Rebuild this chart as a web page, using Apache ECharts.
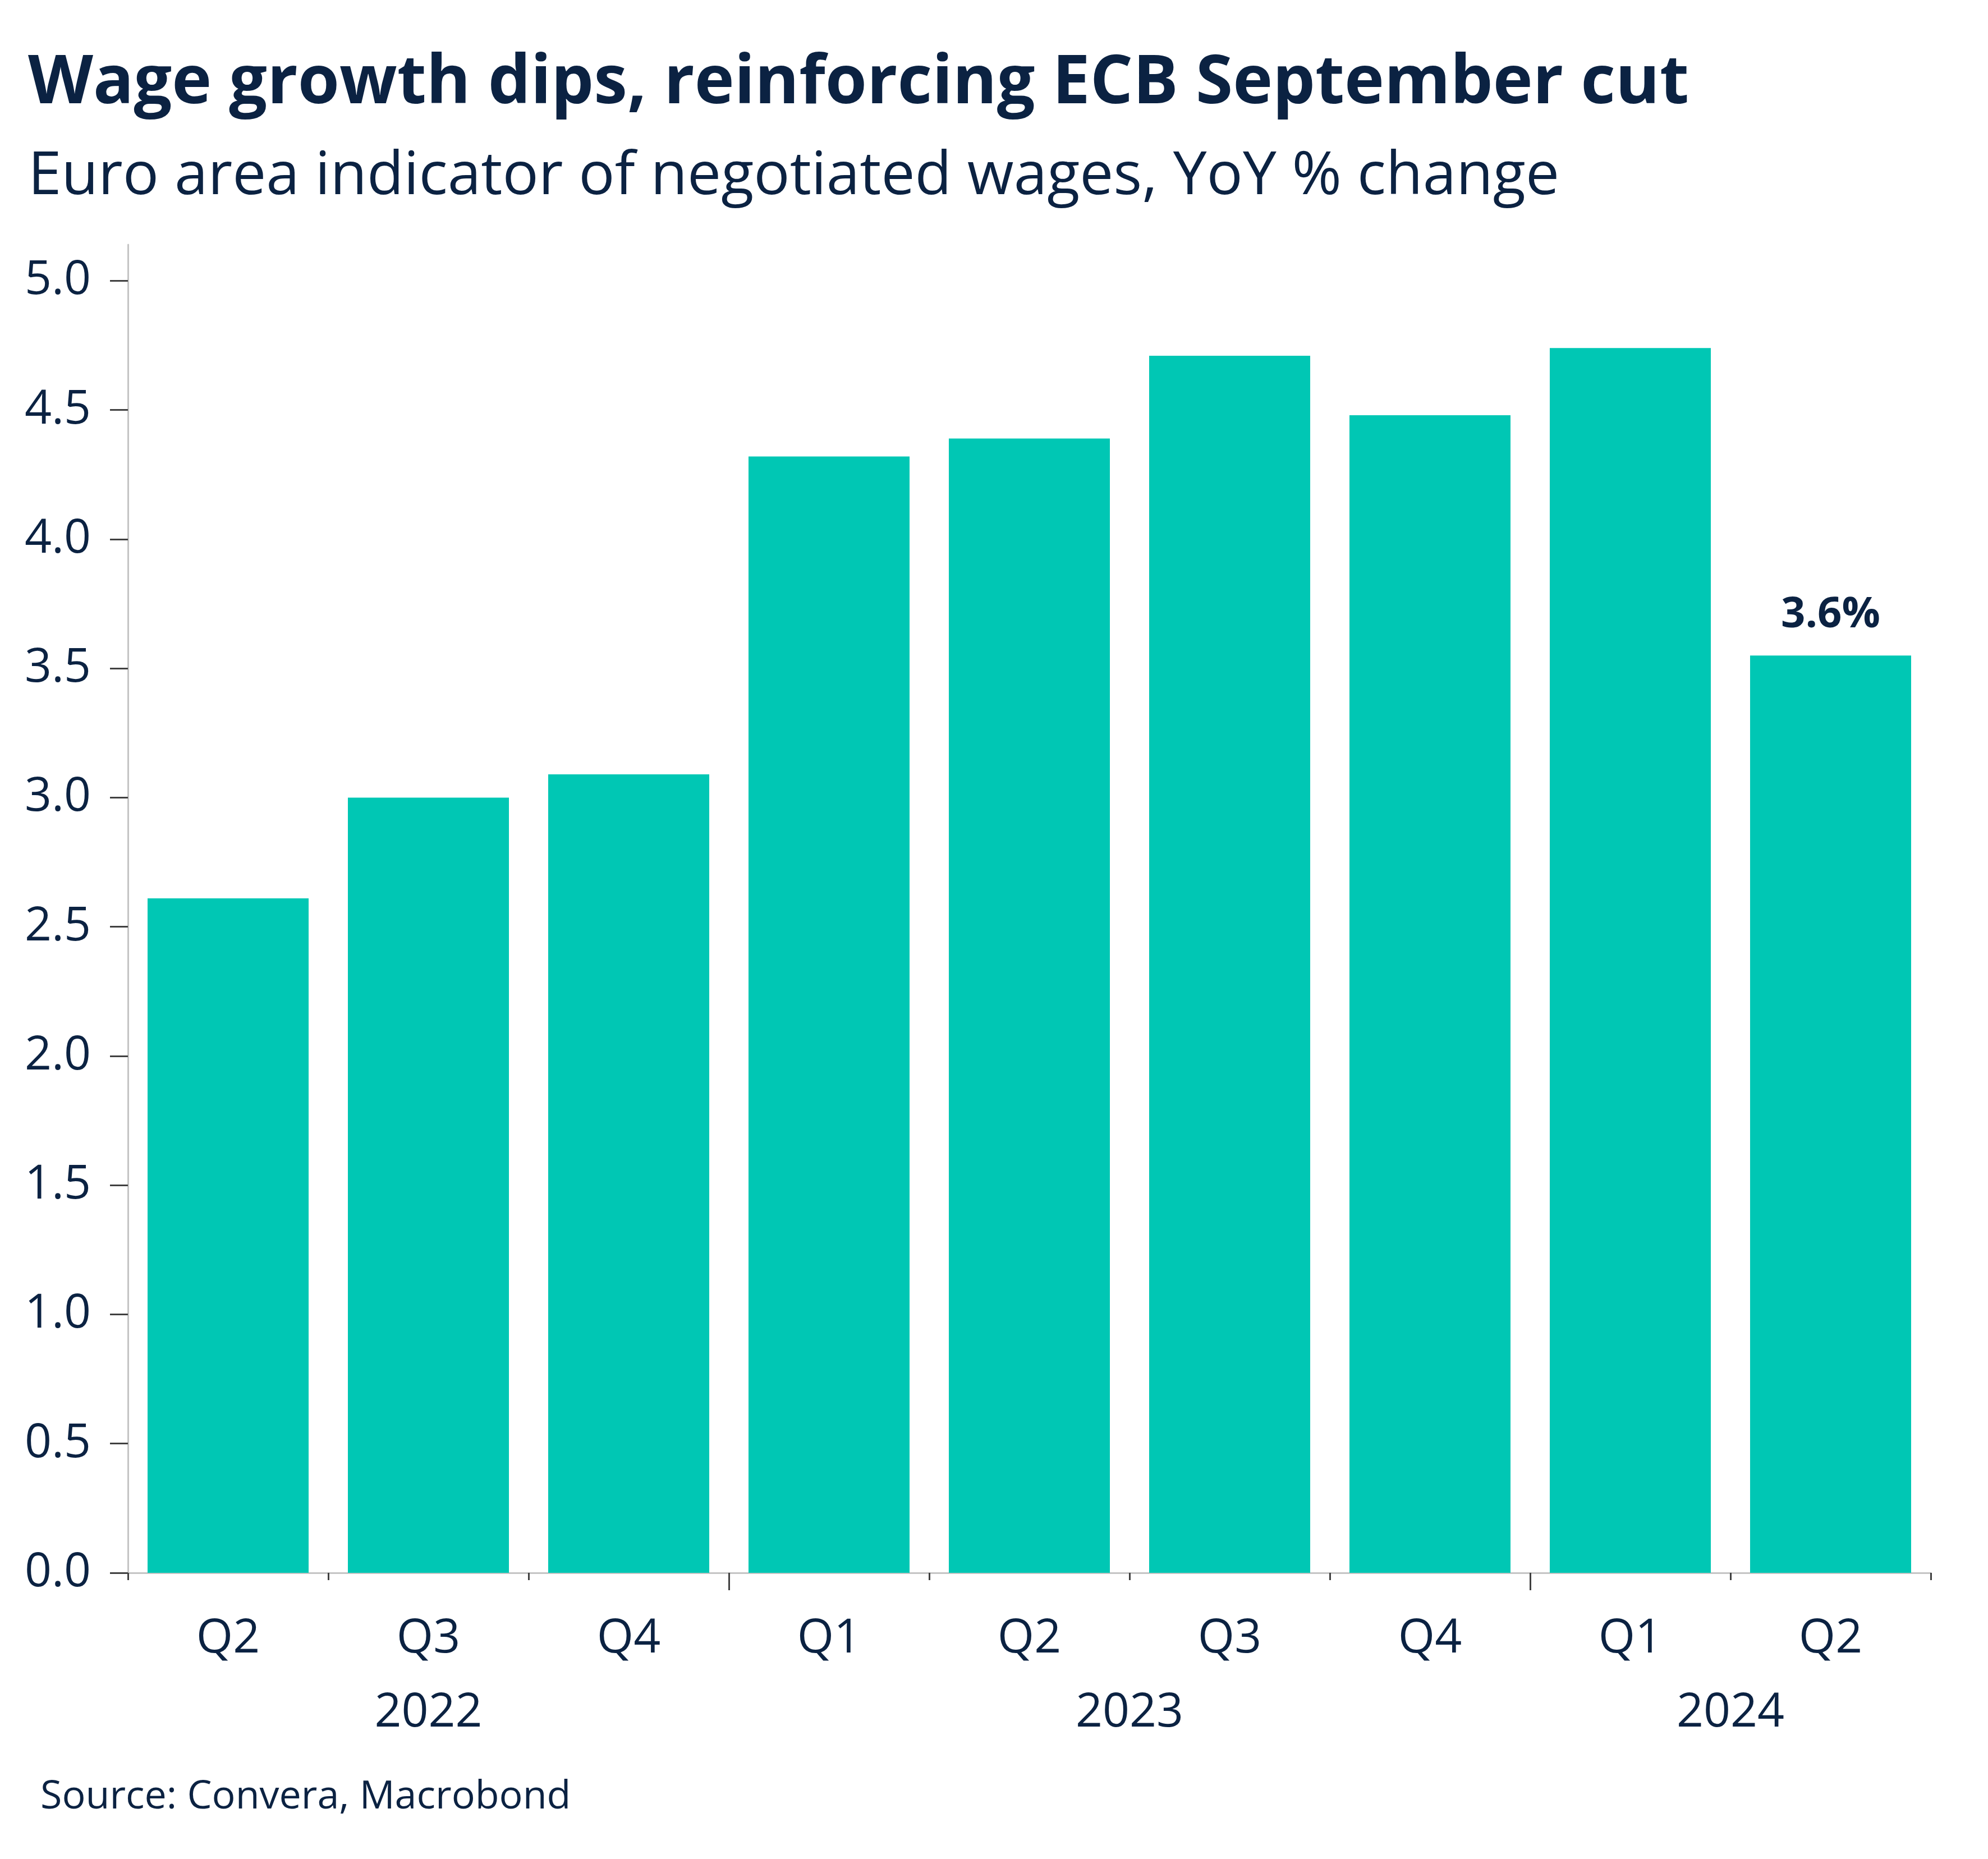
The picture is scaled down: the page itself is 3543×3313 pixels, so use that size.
<!DOCTYPE html>
<html>
<head>
<meta charset="utf-8">
<script src="https://cdn.jsdelivr.net/npm/echarts@6/dist/echarts.min.js"></script>
<style>
html,body{margin:0;padding:0;background:#fff;}
#chart{width:3543px;height:3313px;}
</style>
</head>
<body>
<div id="chart"></div>
<script>
// ---- Data ----
const quarters = ['Q2', 'Q3', 'Q4', 'Q1', 'Q2', 'Q3', 'Q4', 'Q1', 'Q2'];
const quarterYears = ['2022', '2022', '2022', '2023', '2023', '2023', '2023', '2024', '2024'];
const wageGrowth = [2.61, 3.00, 3.09, 4.32, 4.39, 4.71, 4.48, 4.74, 3.55];
const barLabels = ['', '', '', '', '', '', '', '', '3.6%'];
const yTicks = [0, 0.5, 1.0, 1.5, 2.0, 2.5, 3.0, 3.5, 4.0, 4.5, 5.0];
const titleText = 'Wage growth dips, reinforcing ECB September cut';
const subtitleText = 'Euro area indicator of negotiated wages, YoY % change';
const sourceText = 'Source: Convera, Macrobond';

// ---- Derived year groups ----
const yearGroups = [];
quarterYears.forEach((y, i) => {
  const last = yearGroups[yearGroups.length - 1];
  if (last && last.year === y) { last.end = i + 1; }
  else { yearGroups.push({ year: y, start: i, end: i + 1 }); }
});
const yearLabelPos = yearGroups.map(g => (g.start + g.end) / 2);
const yearBoundaries = yearGroups.slice(1).map(g => g.start);

const NAVY = '#0b2242';
const TEAL = '#00c7b4';
const FONT = '"Open Sans", "Noto Sans", sans-serif';

const chart = echarts.init(document.getElementById('chart'), null, { renderer: 'canvas' });

chart.setOption({
  backgroundColor: '#ffffff',
  animation: false,
  textStyle: { fontFamily: FONT, color: NAVY },
  graphic: [
    { type: 'text', left: 50, top: 90, style: { text: titleText, font: 'bold 120px ' + FONT, fill: NAVY } },
    { type: 'text', left: 50, top: 262, style: { text: subtitleText, font: '107px ' + FONT, fill: NAVY } },
    { type: 'text', left: 72, top: 3168, style: { text: sourceText, font: '70px ' + FONT, fill: NAVY } }
  ],
  grid: { left: 228, right: 102, top: 436, bottom: 510, containLabel: false },
  xAxis: [
    {
      type: 'category',
      data: quarters,
      boundaryGap: true,
      position: 'bottom',
      axisLine: { show: true, lineStyle: { color: '#c4c4c4', width: 3 } },
      axisTick: { show: true, length: 13, alignWithLabel: false, lineStyle: { color: '#404040', width: 3 } },
      axisLabel: { show: true, margin: 76, fontSize: 84, color: NAVY, fontFamily: FONT, interval: 0 }
    },
    {
      type: 'value',
      min: 0,
      max: quarters.length,
      position: 'bottom',
      axisLine: { show: false },
      splitLine: { show: false },
      axisTick: { show: true, length: 31, customValues: yearBoundaries, lineStyle: { color: '#404040', width: 3 } },
      axisLabel: {
        show: true, margin: 208, fontSize: 84, color: NAVY, fontFamily: FONT,
        customValues: yearLabelPos,
        formatter: function (v) {
          const idx = yearLabelPos.indexOf(v);
          return idx >= 0 ? yearGroups[idx].year : '';
        }
      }
    }
  ],
  yAxis: {
    type: 'value',
    min: 0,
    max: 5.14,
    interval: 0.5,
    axisLine: { show: true, lineStyle: { color: '#c4c4c4', width: 3 } },
    axisTick: { show: true, length: 32, inside: false, customValues: yTicks, lineStyle: { color: '#404040', width: 3 } },
    axisLabel: {
      show: true, margin: 66, fontSize: 84, color: NAVY, fontFamily: FONT,
      customValues: yTicks,
      formatter: function (v) { return v.toFixed(1); }
    },
    splitLine: { show: false }
  },
  series: [
    {
      type: 'bar',
      xAxisIndex: 0,
      data: wageGrowth.map((v, i) => ({
        value: v,
        label: barLabels[i] ? {
          show: true, position: 'top', distance: 34,
          formatter: barLabels[i],
          fontSize: 76, fontWeight: 'bold', color: NAVY, fontFamily: FONT
        } : { show: false }
      })),
      barCategoryGap: '19.6%',
      itemStyle: { color: TEAL }
    }
  ]
});
</script>
</body>
</html>
